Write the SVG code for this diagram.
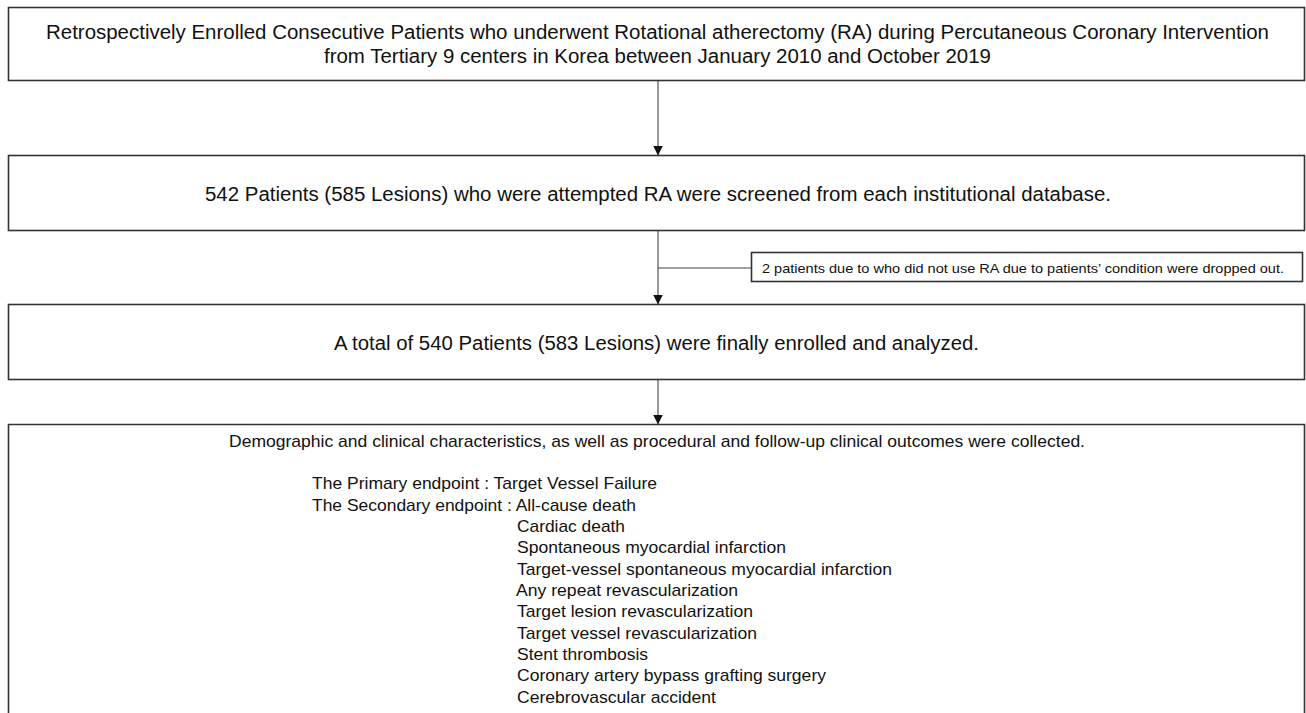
<svg xmlns="http://www.w3.org/2000/svg" width="1306" height="713" viewBox="0 0 1306 713">
<style>
.box{fill:#fff;stroke:#333;stroke-width:1.6}
.t{font-family:"Liberation Sans",Arial,sans-serif;fill:#111}
.big{font-size:20px}
.mid{font-size:17px}
.sm{font-size:13px}
.con{stroke:#444;stroke-width:1.1;fill:none}
</style>
<defs>
<marker id="arr" viewBox="0 0 10 10" refX="10" refY="5" markerWidth="10" markerHeight="10" markerUnits="userSpaceOnUse" orient="auto">
<path d="M0,0 L10,5 L0,10 z" fill="#111"/>
</marker>
</defs>
<rect width="1306" height="713" fill="#fff"/>
<g id="connectors">
<line class="con" x1="658" y1="81" x2="658" y2="155.5" marker-end="url(#arr)"/>
<line class="con" x1="658" y1="231" x2="658" y2="304.5" marker-end="url(#arr)"/>
<line class="con" x1="658" y1="268" x2="751.5" y2="268"/>
<line class="con" x1="658" y1="380" x2="658" y2="424.5" marker-end="url(#arr)"/>
</g>
<g id="node-enrolled">
<rect class="box" x="8.5" y="7.5" width="1296" height="73"/>
<text class="t big" x="46" y="39" textLength="1223" lengthAdjust="spacingAndGlyphs">Retrospectively Enrolled Consecutive Patients who underwent Rotational atherectomy (RA) during Percutaneous Coronary Intervention</text>
<text class="t big" x="324" y="63" textLength="667" lengthAdjust="spacingAndGlyphs">from Tertiary 9 centers in Korea between January 2010 and October 2019</text>
</g>
<g id="node-screened">
<rect class="box" x="8.5" y="155.5" width="1296" height="75"/>
<text class="t big" x="205" y="201" textLength="906" lengthAdjust="spacingAndGlyphs">542 Patients (585 Lesions) who were attempted RA were screened from each institutional database.</text>
</g>
<g id="node-dropped">
<rect class="box" x="751.5" y="252.5" width="551" height="29"/>
<text class="t sm" x="762" y="272.5" textLength="522" lengthAdjust="spacingAndGlyphs">2 patients due to who did not use RA due to patients’ condition were dropped out.</text>
</g>
<g id="node-final">
<rect class="box" x="8.5" y="304.5" width="1296" height="75"/>
<text class="t big" x="334" y="350" textLength="645" lengthAdjust="spacingAndGlyphs">A total of 540 Patients (583 Lesions) were finally enrolled and analyzed.</text>
</g>
<g id="node-outcomes">
<path class="box" d="M8.5,720 V424.5 H1304.5 V720"/>
<text class="t mid" x="229" y="447" textLength="856" lengthAdjust="spacingAndGlyphs">Demographic and clinical characteristics, as well as procedural and follow-up clinical outcomes were collected.</text>
<text class="t mid" x="312" y="489" textLength="345" lengthAdjust="spacingAndGlyphs">The Primary endpoint : Target Vessel Failure</text>
<text class="t mid" x="312" y="510.5" textLength="324" lengthAdjust="spacingAndGlyphs">The Secondary endpoint : All-cause death</text>
<text class="t mid" x="517" y="532" textLength="108" lengthAdjust="spacingAndGlyphs">Cardiac death</text>
<text class="t mid" x="517" y="553" textLength="269" lengthAdjust="spacingAndGlyphs">Spontaneous myocardial infarction</text>
<text class="t mid" x="517" y="574.5" textLength="375" lengthAdjust="spacingAndGlyphs">Target-vessel spontaneous myocardial infarction</text>
<text class="t mid" x="516" y="596" textLength="222" lengthAdjust="spacingAndGlyphs">Any repeat revascularization</text>
<text class="t mid" x="517" y="617" textLength="236" lengthAdjust="spacingAndGlyphs">Target lesion revascularization</text>
<text class="t mid" x="517" y="638.5" textLength="240" lengthAdjust="spacingAndGlyphs">Target vessel revascularization</text>
<text class="t mid" x="517" y="660" textLength="131" lengthAdjust="spacingAndGlyphs">Stent thrombosis</text>
<text class="t mid" x="517" y="681" textLength="309" lengthAdjust="spacingAndGlyphs">Coronary artery bypass grafting surgery</text>
<text class="t mid" x="517" y="702.5" textLength="199" lengthAdjust="spacingAndGlyphs">Cerebrovascular accident</text>
</g>
</svg>
